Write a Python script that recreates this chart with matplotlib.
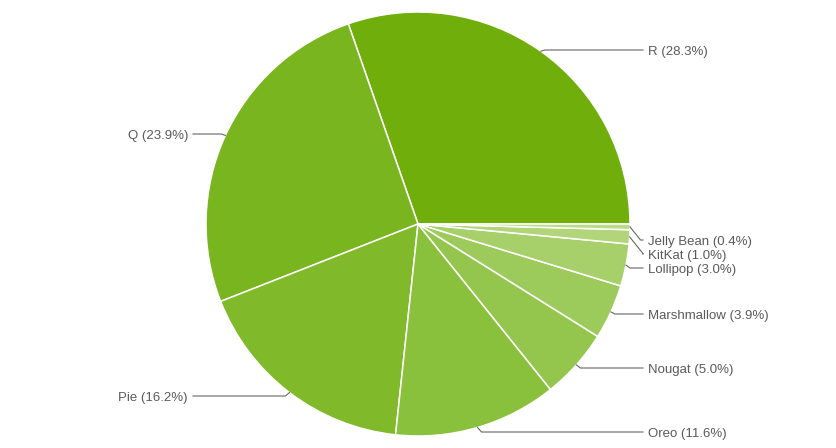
import numpy as np
from matplotlib import pyplot as plt

## Données

versions = ["R", "Q", "Pie", "Oreo", "Nougat", "Marshmallow", "Lollipop", "KitKat", "Jelly Bean"]
parts = [28.3, 23.9, 16.2, 11.6, 5.0, 3.9, 3.0, 1.0, 0.4]
couleurs = ["#6fae0b", "#79b51f", "#80ba2b", "#8ac13c", "#94c64d", "#9dcb5b", "#a7d06a", "#b2d57a", "#bcdb8a"]

# position verticale des étiquettes (pixels depuis le haut)
label_y = [50, 134, 396, 432, 368, 314, 268, 254, 240]

## Figure

W, H = 836, 448
fig = plt.figure(figsize=(W/100, H/100), dpi=100)
ax = fig.add_axes([0, 0, 1, 1])

cx, cy, R = 418, 224, 212
wedges, _ = ax.pie(parts, colors=couleurs, startangle=0, counterclock=True,
                   center=(cx, cy), radius=R, frame=True,
                   wedgeprops=dict(edgecolor='white', linewidth=1.1))
ax.set_xlim(0, W)
ax.set_ylim(0, H)
ax.set_aspect('equal')
ax.axis('off')

## Étiquettes

for w, nom, p, ly in zip(wedges, versions, parts, label_y):
    a = np.radians((w.theta1 + w.theta2) / 2)
    ex = cx + R * np.cos(a)
    ey = cy + R * np.sin(a)
    ty = H - ly
    droite = np.cos(a) > 0
    s = 1 if droite else -1
    dy = abs(ty - ey)
    kx = ex + s * max(4, dy * 0.8)
    xfin = 643 if droite else 193
    ax.plot([ex, kx, xfin], [ey, ty, ty], color='#666666', lw=0.8)
    ax.text(xfin + s * 5, ty - 1.5, "%s (%.1f%%)" % (nom, p),
            ha='left' if droite else 'right', va='center',
            fontsize=9.5, color='#5a5a5a', family='Liberation Sans')

plt.savefig("out.png", dpi=100)
